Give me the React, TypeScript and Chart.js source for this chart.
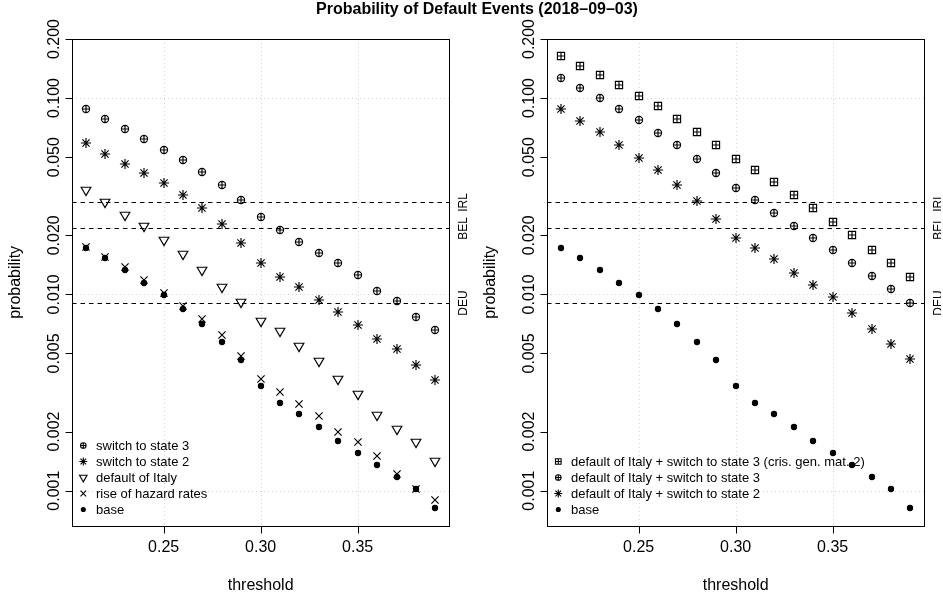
import React, { useEffect, useRef } from "react";
import { Chart, registerables } from "chart.js";
Chart.register(...registerables);

const FONT = '"Liberation Sans", Arial, Helvetica, sans-serif';

const thresholds = [0.21, 0.22, 0.23, 0.24, 0.25, 0.26, 0.27, 0.28, 0.29, 0.30, 0.31, 0.32, 0.33, 0.34, 0.35, 0.36, 0.37, 0.38, 0.39];

// left panel
const switchState3 = [0.0879, 0.0782, 0.0698, 0.0621, 0.0547, 0.0483, 0.0419, 0.036, 0.0303, 0.0247, 0.0213, 0.0184, 0.0163, 0.0145, 0.0126, 0.0104, 0.00921, 0.00767, 0.00655];
const switchState2 = [0.0589, 0.0522, 0.0464, 0.0416, 0.0368, 0.0321, 0.0275, 0.0228, 0.0182, 0.0144, 0.0123, 0.0109, 0.0094, 0.0081, 0.007, 0.00594, 0.00528, 0.00438, 0.00367];
const defaultItaly = [0.0341, 0.0297, 0.0255, 0.0222, 0.019, 0.0161, 0.0133, 0.0109, 0.0091, 0.00734, 0.00648, 0.00547, 0.00459, 0.00372, 0.00311, 0.00244, 0.00206, 0.00178, 0.00142];
const riseHazard = [0.0175, 0.0155, 0.0138, 0.0118, 0.0102, 0.00869, 0.00752, 0.00623, 0.00483, 0.00371, 0.0032, 0.00276, 0.00241, 0.00198, 0.00176, 0.0015, 0.00121, 0.00102, 0.000897];
const base = [0.0172, 0.0153, 0.0133, 0.0114, 0.00993, 0.00842, 0.00706, 0.00572, 0.00463, 0.00343, 0.00281, 0.00247, 0.0021, 0.0018, 0.00156, 0.00135, 0.00117, 0.00102, 0.000819];

// right panel
const italyCrisis = [0.163, 0.146, 0.131, 0.117, 0.103, 0.0908, 0.0782, 0.0674, 0.0574, 0.0492, 0.0428, 0.0372, 0.032, 0.0275, 0.0233, 0.02, 0.0169, 0.0144, 0.0123];
const italySwitch3 = [0.126, 0.112, 0.1, 0.0879, 0.0776, 0.0665, 0.0576, 0.0488, 0.0416, 0.0347, 0.0302, 0.0259, 0.0223, 0.0194, 0.0168, 0.0145, 0.0124, 0.0107, 0.00907];
const italySwitch2 = [0.0883, 0.0764, 0.0668, 0.0576, 0.0498, 0.0429, 0.0359, 0.0298, 0.0243, 0.0193, 0.0172, 0.0151, 0.0129, 0.0111, 0.0097, 0.00806, 0.00669, 0.00556, 0.00466];

const refValues = [0.0294, 0.0217, 0.00903];
const refLabels = ["IRL", "BEL", "DEU"];

const yTicks = [0.2, 0.1, 0.05, 0.02, 0.01, 0.005, 0.002, 0.001];
const yTickLabels = ["0.200", "0.100", "0.050", "0.020", "0.010", "0.005", "0.002", "0.001"];
const xTicks = [0.25, 0.3, 0.35];
const xTickLabels = ["0.25", "0.30", "0.35"];
const gridYValues = [0.1, 0.01, 0.001];

const leftLabels = ["switch to state 3", "switch to state 2", "default of Italy", "rise of hazard rates", "base"];
const leftMarkers = ["circlePlus", "asterisk", "triDown", "cross", "dot"];
const rightLabels = ["default of Italy + switch to state 3 (cris. gen. mat. 2)", "default of Italy + switch to state 3", "default of Italy + switch to state 2", "base"];
const rightMarkers = ["squarePlus", "circlePlus", "asterisk", "dot"];

const X_MIN = 0.2028, X_MAX = 0.3972, Y_MIN = 0.000663, Y_MAX = 0.2;

function drawMarker(ctx: CanvasRenderingContext2D, kind: string, cx: number, cy: number, R: number, lw: number) {
  ctx.save();
  ctx.strokeStyle = "#000";
  ctx.fillStyle = "#000";
  ctx.lineWidth = lw;
  ctx.setLineDash([]);
  ctx.beginPath();
  if (kind === "circlePlus") {
    ctx.arc(cx, cy, R, 0, Math.PI * 2);
    ctx.moveTo(cx - R, cy); ctx.lineTo(cx + R, cy);
    ctx.moveTo(cx, cy - R); ctx.lineTo(cx, cy + R);
    ctx.stroke();
  } else if (kind === "squarePlus") {
    ctx.rect(cx - R, cy - R, 2 * R, 2 * R);
    ctx.moveTo(cx - R, cy); ctx.lineTo(cx + R, cy);
    ctx.moveTo(cx, cy - R); ctx.lineTo(cx, cy + R);
    ctx.stroke();
  } else if (kind === "asterisk") {
    ctx.moveTo(cx - R, cy - R); ctx.lineTo(cx + R, cy + R);
    ctx.moveTo(cx - R, cy + R); ctx.lineTo(cx + R, cy - R);
    const p = R * Math.SQRT2;
    ctx.moveTo(cx - p, cy); ctx.lineTo(cx + p, cy);
    ctx.moveTo(cx, cy - p); ctx.lineTo(cx, cy + p);
    ctx.stroke();
  } else if (kind === "triDown") {
    const r = 1.5551 * R, xc = 1.3468 * R, yc = 0.7776 * R;
    ctx.moveTo(cx, cy + r);
    ctx.lineTo(cx + xc, cy - yc);
    ctx.lineTo(cx - xc, cy - yc);
    ctx.closePath();
    ctx.stroke();
  } else if (kind === "cross") {
    ctx.moveTo(cx - R, cy - R); ctx.lineTo(cx + R, cy + R);
    ctx.moveTo(cx - R, cy + R); ctx.lineTo(cx + R, cy - R);
    ctx.stroke();
  } else if (kind === "dot") {
    ctx.arc(cx, cy, R * 0.72, 0, Math.PI * 2);
    ctx.fill();
    ctx.stroke();
  }
  ctx.restore();
}

function makeMarkerCanvas(kind: string, R: number): HTMLCanvasElement {
  const c = document.createElement("canvas");
  c.width = 18; c.height = 18;
  const ctx = c.getContext("2d")!;
  drawMarker(ctx, kind, 9, 9, R, 1.15);
  return c;
}

const PT_R = 3.6;
const LEG_R = 2.8;

function panelPlugin(legendLabels: string[], legendMarkers: string[]) {
  return {
    id: "panelDecor",
    beforeDatasetsDraw(chart: any) {
      const ctx: CanvasRenderingContext2D = chart.ctx;
      const a = chart.chartArea;
      const xs = chart.scales.x, ys = chart.scales.y;
      ctx.save();
      ctx.beginPath();
      ctx.rect(a.left, a.top, a.right - a.left, a.bottom - a.top);
      ctx.clip();
      ctx.strokeStyle = "#d3d3d3";
      ctx.lineWidth = 1;
      ctx.setLineDash([1, 3]);
      xTicks.forEach((v) => {
        const px = Math.round(xs.getPixelForValue(v)) + 0.5;
        ctx.beginPath(); ctx.moveTo(px, a.top); ctx.lineTo(px, a.bottom); ctx.stroke();
      });
      gridYValues.forEach((v) => {
        const py = Math.round(ys.getPixelForValue(v)) + 0.5;
        ctx.beginPath(); ctx.moveTo(a.left, py); ctx.lineTo(a.right, py); ctx.stroke();
      });
      ctx.strokeStyle = "#000";
      ctx.setLineDash([4.5, 4]);
      refValues.forEach((v) => {
        const py = Math.round(ys.getPixelForValue(v)) + 0.5;
        ctx.beginPath(); ctx.moveTo(a.left, py); ctx.lineTo(a.right, py); ctx.stroke();
      });
      ctx.restore();
      ctx.imageSmoothingEnabled = false;
    },
    afterDatasetsDraw(chart: any) {
      const ctx: CanvasRenderingContext2D = chart.ctx;
      ctx.imageSmoothingEnabled = true;
      const a = chart.chartArea;
      const xs = chart.scales.x, ys = chart.scales.y;
      ctx.save();
      ctx.setLineDash([]);
      ctx.strokeStyle = "#000";
      ctx.fillStyle = "#000";
      ctx.lineWidth = 1;
      const L = Math.round(a.left) + 0.5, Rr = Math.round(a.right) + 0.5;
      const T = Math.round(a.top) + 0.5, B = Math.round(a.bottom) + 0.5;
      ctx.strokeRect(L, T, Rr - L, B - T);
      ctx.font = `16px ${FONT}`;
      yTicks.forEach((v, i) => {
        const py = Math.round(ys.getPixelForValue(v)) + 0.5;
        ctx.beginPath(); ctx.moveTo(L - 7, py); ctx.lineTo(L, py); ctx.stroke();
        ctx.save();
        ctx.translate(a.left - 13, ys.getPixelForValue(v));
        ctx.rotate(-Math.PI / 2);
        ctx.textAlign = "center";
        ctx.textBaseline = "alphabetic";
        ctx.fillText(yTickLabels[i], 0, 0);
        ctx.restore();
      });
      xTicks.forEach((v, i) => {
        const px = Math.round(xs.getPixelForValue(v)) + 0.5;
        ctx.beginPath(); ctx.moveTo(px, B); ctx.lineTo(px, B + 7); ctx.stroke();
        ctx.textAlign = "center";
        ctx.textBaseline = "alphabetic";
        ctx.fillText(xTickLabels[i], xs.getPixelForValue(v), a.bottom + 25.8);
      });
      ctx.textAlign = "center";
      ctx.fillText("threshold", (a.left + a.right) / 2, a.bottom + 63.8);
      ctx.save();
      ctx.translate(a.left - 52, (a.top + a.bottom) / 2);
      ctx.rotate(-Math.PI / 2);
      ctx.fillText("probability", 0, 0);
      ctx.restore();
      ctx.font = `12px ${FONT}`;
      refValues.forEach((v, i) => {
        ctx.save();
        ctx.translate(a.right + 17.4, ys.getPixelForValue(v));
        ctx.rotate(-Math.PI / 2);
        ctx.textAlign = "center";
        ctx.fillText(refLabels[i], 0, 0);
        ctx.restore();
      });
      ctx.font = `13px ${FONT}`;
      ctx.textAlign = "left";
      ctx.textBaseline = "middle";
      const n = legendLabels.length;
      legendLabels.forEach((lab, i) => {
        const y = a.bottom - 16.2 - 16 * (n - 1 - i);
        drawMarker(ctx, legendMarkers[i], a.left + 11.3, y, LEG_R, 1.1);
        ctx.fillStyle = "#000";
        ctx.fillText(lab, a.left + 24, y + 0.5);
      });
      ctx.restore();
    },
  };
}

function makeConfig(series: { values: number[]; marker: string; label: string }[], legendLabels: string[], legendMarkers: string[], padding: any): any {
  return {
    type: "scatter",
    data: {
      datasets: series.map((s) => ({
        label: s.label,
        data: thresholds.map((t, i) => ({ x: t, y: s.values[i] })),
        pointStyle: makeMarkerCanvas(s.marker, PT_R),
        pointRadius: 4,
        pointHoverRadius: 4,
        showLine: false,
      })),
    },
    options: {
      animation: false,
      responsive: false,
      events: [],
      layout: { padding },
      scales: {
        x: { type: "linear", min: X_MIN, max: X_MAX, bounds: "data", display: false },
        y: { type: "logarithmic", min: Y_MIN, max: Y_MAX, bounds: "data", display: false },
      },
      plugins: { legend: { display: false }, tooltip: { enabled: false }, title: { display: false } },
    },
    plugins: [panelPlugin(legendLabels, legendMarkers)],
  };
}

export default function App() {
  const leftRef = useRef<HTMLCanvasElement>(null);
  const rightRef = useRef<HTMLCanvasElement>(null);
  useEffect(() => {
    const c1 = new Chart(
      leftRef.current!,
      makeConfig(
        [
          { values: base, marker: "dot", label: "base" },
          { values: riseHazard, marker: "cross", label: "rise of hazard rates" },
          { values: defaultItaly, marker: "triDown", label: "default of Italy" },
          { values: switchState2, marker: "asterisk", label: "switch to state 2" },
          { values: switchState3, marker: "circlePlus", label: "switch to state 3" },
        ],
        leftLabels,
        leftMarkers,
        { left: 72, right: 21.7, top: 39, bottom: 69.3 }
      )
    );
    const c2 = new Chart(
      rightRef.current!,
      makeConfig(
        [
          { values: base, marker: "dot", label: "base" },
          { values: italySwitch2, marker: "asterisk", label: "default of Italy + switch to state 2" },
          { values: italySwitch3, marker: "circlePlus", label: "default of Italy + switch to state 3" },
          { values: italyCrisis, marker: "squarePlus", label: "default of Italy + switch to state 3 (cris. gen. mat. 2)" },
        ],
        rightLabels,
        rightMarkers,
        { left: 76, right: 16.7, top: 39, bottom: 69.3 }
      )
    );
    return () => {
      c1.destroy();
      c2.destroy();
    };
  }, []);
  return (
    <div style={{ position: "fixed", left: 0, top: 0, width: 943, height: 595, background: "#fff", overflow: "hidden" }}>
      <canvas ref={leftRef} width={471} height={595} style={{ position: "absolute", left: 0, top: 0, width: 471, height: 595 }} />
      <canvas ref={rightRef} width={470} height={595} style={{ position: "absolute", left: 471, top: 0, width: 470, height: 595 }} />
      <div
        style={{
          position: "absolute",
          top: 1,
          left: 477,
          transform: "translateX(-50%)",
          font: `bold 16px ${FONT}`,
          lineHeight: "16px",
          whiteSpace: "nowrap",
          color: "#000",
        }}
      >
        Probability of Default Events (2018–09–03)
      </div>
    </div>
  );
}
